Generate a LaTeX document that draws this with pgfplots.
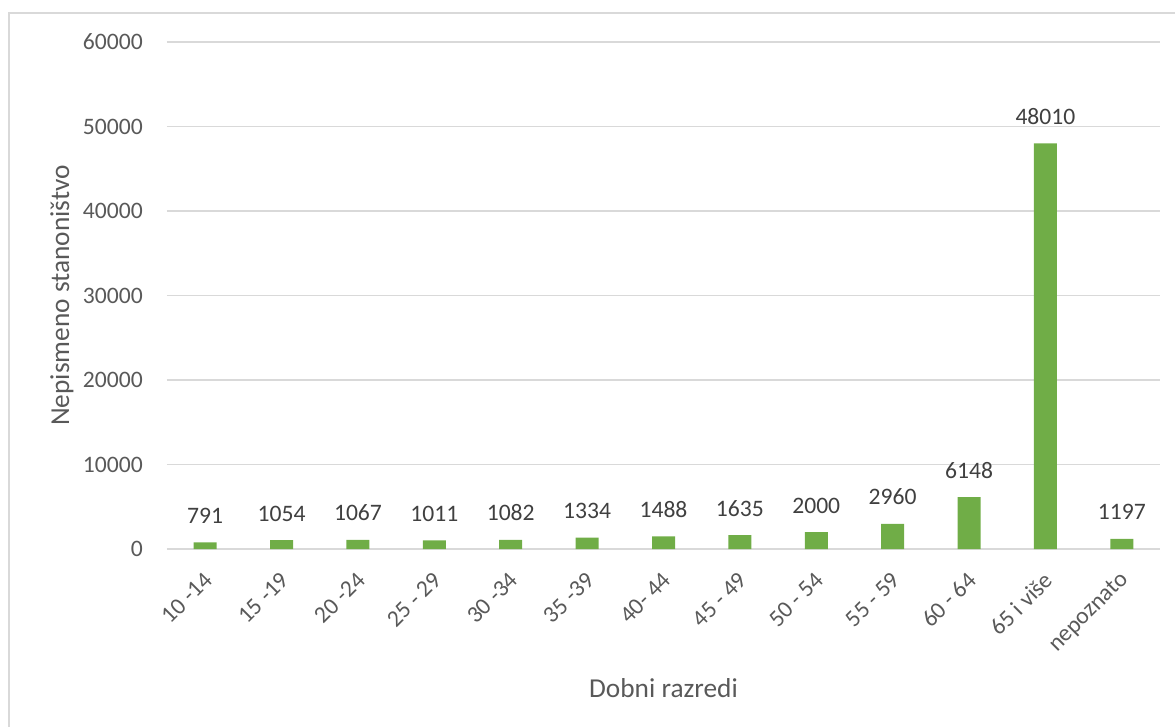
\documentclass[border=0pt]{standalone}
\usepackage{pgfplots}
\pgfplotsset{compat=1.18}
\usepackage{fontspec}
\setmainfont{Carlito}
\definecolor{bargreen}{HTML}{70AD47}
\definecolor{gridgray}{HTML}{D9D9D9}
\definecolor{txtgray}{HTML}{595959}
\definecolor{lblgray}{HTML}{404040}
\pgfplotsset{/pgf/number format/assume math mode=true, /pgf/number format/1000 sep={}}
\begin{document}
\begin{tikzpicture}
\useasboundingbox (-125.25pt,-132.75pt) rectangle (756pt,411.75pt);
\draw[gridgray, line width=1.1pt] (-118.5pt,-140pt) -- (-118.5pt,402pt) -- (770pt,402pt);
\begin{axis}[
  at={(0,0)}, anchor=south west,
  scale only axis,
  width=744.75pt, height=380.25pt,
  xmin=-0.5, xmax=12.5,
  ymin=0, ymax=60000,
  ytick={0,10000,...,60000},
  scaled y ticks=false,
  xtick=data,
  xticklabels={10 -14,15 -19,20 -24,25 - 29,30 -34,35 -39,40- 44,45 - 49,50 - 54,55 - 59,60 - 64,65 i više,nepoznato},
  major tick length=0pt,
  axis line style={draw=none},
  ymajorgrids, grid style={gridgray, line width=1.1pt},
  tick label style={font=\fontsize{17.7}{21}\selectfont, text=txtgray},
  yticklabel style={anchor=east, inner sep=0pt, xshift=-18pt},
  xticklabel style={xshift=2.5pt, yshift=-20.5pt, rotate=45, anchor=east, inner sep=0pt},
  ylabel={Nepismeno stanoništvo},
  xlabel={Dobni razredi},
  label style={font=\fontsize{20.5}{24}\selectfont, text=txtgray},
  ylabel style={at={(axis description cs:0,0.5)}, anchor=center, yshift=78.75pt},
  xlabel style={at={(axis description cs:0.5,0)}, yshift=-104.25pt, anchor=center},
  nodes near coords,
  nodes near coords style={font=\fontsize{17.7}{21}\selectfont, text=lblgray, anchor=base, inner sep=0pt, yshift=14.25pt},
  clip=false,
]
\addplot[ybar, bar width=17.25pt, fill=bargreen, draw=none] coordinates {
(0,791) (1,1054) (2,1067) (3,1011) (4,1082) (5,1334) (6,1488) (7,1635) (8,2000) (9,2960) (10,6148) (11,48010) (12,1197)
};
\end{axis}
\end{tikzpicture}
\end{document}
